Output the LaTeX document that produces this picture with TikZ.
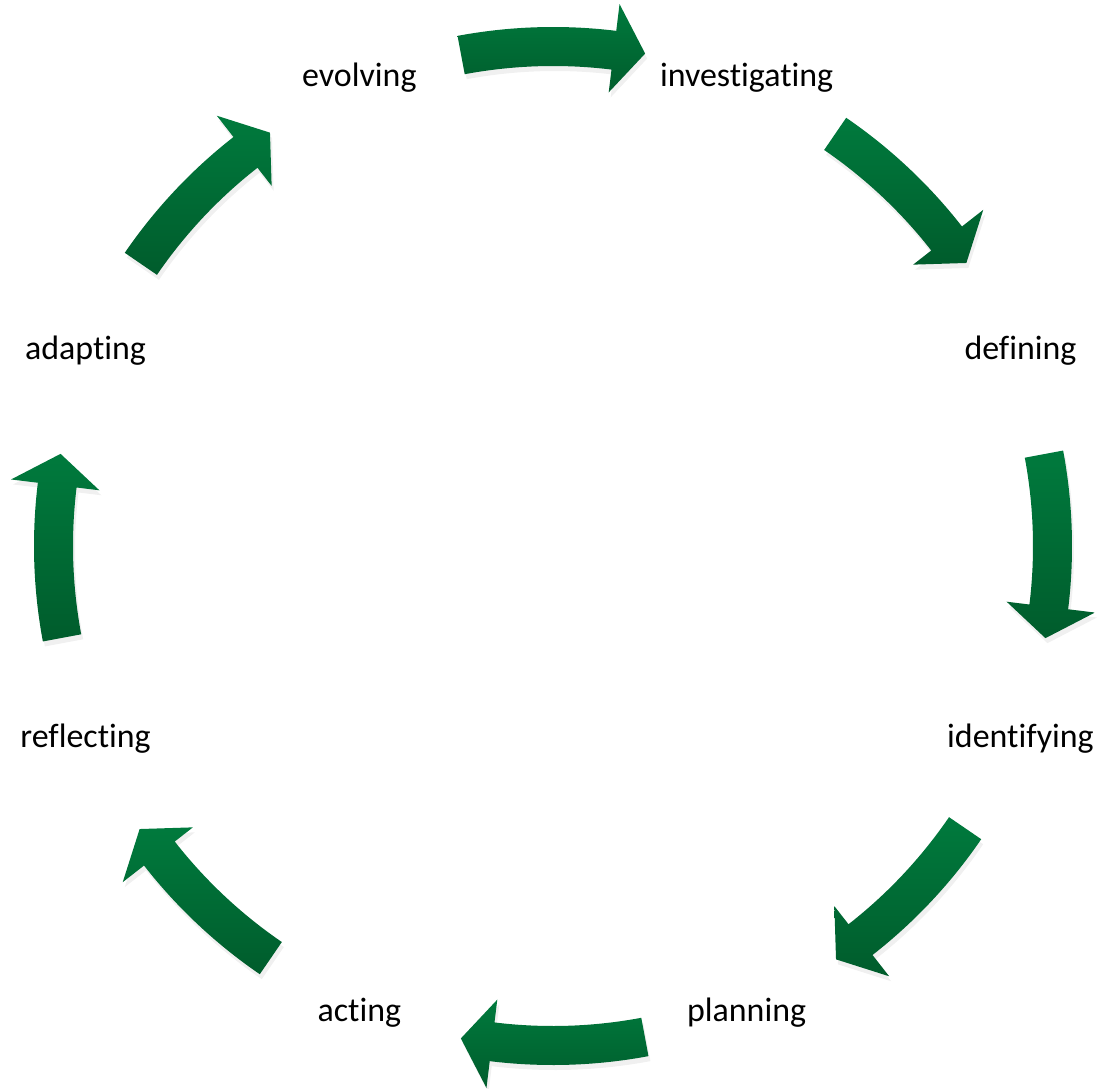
\documentclass[tikz,border=0pt]{standalone}
\usepackage{fontspec}
\newfontfamily\stagefont{Carlito}[RawFeature=-liga, RawFeature=-clig, RawFeature=-dlig]
\usetikzlibrary{shadows}
\definecolor{greenlight}{RGB}{0,122,61}
\definecolor{greendark}{RGB}{0,92,44}
\tikzset{
    %Define style for the stage labels
    stage/.style={
           anchor=mid,
           inner sep=0pt,
           font={\stagefont\fontsize{9.65}{11.5}\selectfont}},
    % Define style for the curved block arrows
    cyclearrow/.style={
           top color=greenlight,
           bottom color=greendark,
           drop shadow={opacity=0.12,shadow xshift=0.02,shadow yshift=-0.05}},
}

\begin{document}
\begin{tikzpicture}
\useasboundingbox (-5.53,-5.42) rectangle (5.44,5.46);
\node[stage] (evolving)      at (112.5:5.06) {evolving};
\node[stage] (investigating) at (67.5:5.06)  {investigating};
\node[stage] (defining)      at (22.5:5.06)  {defining};
\node[stage] (identifying)   at (-22.5:5.06) {identifying};
\node[stage] (planning)      at (-67.5:5.06) {planning};
\node[stage] (acting)        at (-112.5:5.06){acting};
\node[stage] (reflecting)    at (-157.5:5.06){reflecting};
\node[stage] (adapting)      at (157.5:5.06) {adapting};
% one arrow between each pair of stages, clockwise
\foreach \a in {90,45,...,-225}
  \path[cyclearrow] ({\a+10.6}:5.19) arc[start angle=\a+10.6, end angle=\a-7, radius=5.19]
        -- ({\a-7}:5.46) -- ({\a-10.6}:5.01) -- ({\a-7}:4.57) -- ({\a-7}:4.80)
        arc[start angle=\a-7, end angle=\a+10.6, radius=4.80] -- cycle;
\end{tikzpicture}
\end{document}
